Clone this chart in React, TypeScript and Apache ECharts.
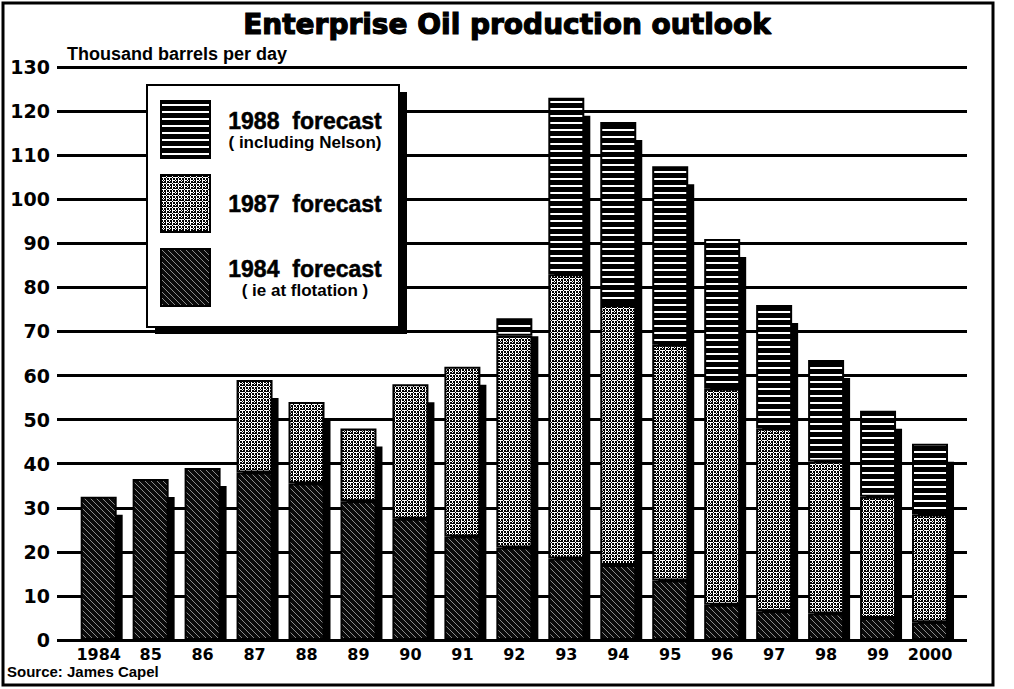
import React, { useEffect, useRef } from "react";
import * as echarts from "echarts";

const categories = ["1984", "85", "86", "87", "88", "89", "90", "91", "92", "93", "94", "95", "96", "97", "98", "99", "2000"];
// segment values (thousand barrels per day), stacked bottom to top
const forecast1984 = [32.5, 36.5, 39, 38, 35.5, 31.5, 27.5, 23.5, 21, 18.5, 17, 13.5, 8, 6.5, 6, 5, 4];
const forecast1987 = [null, null, null, 21, 18.5, 16.5, 30.5, 38.5, 48, 64.5, 59, 53.5, 49, 41.5, 34.5, 27.5, 24.5];
const forecast1988 = [null, null, null, null, null, null, null, null, 4, 40, 41.5, 40.5, 34, 28, 23, 19.5, 16];
const yMin = 0;
const yMax = 130;
const yStep = 10;

function makeCanvas(w: number, h: number, draw: (ctx: CanvasRenderingContext2D) => void) {
  const c = document.createElement("canvas");
  c.width = w;
  c.height = h;
  const ctx = c.getContext("2d")!;
  draw(ctx);
  return c;
}

export default function App() {
  const ref = useRef<HTMLDivElement>(null);

  useEffect(() => {
    if (!ref.current) return;
    const hatch = makeCanvas(6, 6, (ctx) => {
      ctx.fillStyle = "#0a0a0a";
      ctx.fillRect(0, 0, 6, 6);
      ctx.fillStyle = "#8a8a8a";
      for (let i = 0; i < 6; i++) ctx.fillRect(i, i, 1, 1);
    });
    const stipple = makeCanvas(6, 6, (ctx) => {
      ctx.fillStyle = "#ffffff";
      ctx.fillRect(0, 0, 6, 6);
      ctx.fillStyle = "#000000";
      ctx.fillRect(0, 0, 2, 2);
      ctx.fillRect(3, 0, 2, 2);
      ctx.fillRect(0, 3, 2, 2);
      ctx.fillRect(3, 3, 2, 2);
      ctx.fillRect(2, 5, 1, 1);
      ctx.fillRect(5, 2, 1, 1);
      ctx.fillRect(2, 1, 1, 1);
      ctx.fillRect(4, 5, 1, 1);
    });
    const stripes = makeCanvas(4, 7, (ctx) => {
      ctx.fillStyle = "#000000";
      ctx.fillRect(0, 0, 4, 7);
      ctx.fillStyle = "#ffffff";
      ctx.fillRect(0, 3, 4, 2);
    });
    const pat = (c: HTMLCanvasElement) => ({ image: c, repeat: "repeat" });

    const totals = categories.map(
      (_, i) => (forecast1984[i] || 0) + (forecast1987[i] || 0) + (forecast1988[i] || 0)
    );

    const chart = echarts.init(ref.current, null, { renderer: "svg" });
    const barStyle = (c: HTMLCanvasElement) => ({
      color: pat(c),
      borderColor: "#000",
      borderWidth: 2,
    });

    const legendText: Record<string, string> = {
      "1988 forecast": "{a|1988  forecast}\n{b|( including Nelson)}",
      "1987 forecast": "{a|1987  forecast}",
      "1984 forecast": "{a|1984  forecast}\n{b|( ie at flotation )}",
    };

    chart.setOption({
      animation: false,
      backgroundColor: "#fff",
      title: {
        text: "Enterprise Oil production outlook",
        left: "center",
        top: 5,
        textStyle: {
          fontFamily: "DejaVu Sans",
          fontWeight: "bold",
          fontSize: 28,
          color: "#000",
          textBorderColor: "#000",
          textBorderWidth: 1.2,
        },
      },
      legend: {
        data: ["1988 forecast", "1987 forecast", "1984 forecast"],
        orient: "vertical",
        left: 147,
        top: 85,
        itemWidth: 49,
        itemHeight: 57,
        itemGap: 15,
        padding: [15, 4, 20, 13],
        backgroundColor: "#fff",
        borderColor: "#000",
        borderWidth: 2,
        icon: "rect",
        selectedMode: false,
        z: 6,
        formatter: (name: string) => legendText[name] || name,
        textStyle: {
          color: "#000",
          rich: {
            a: { fontFamily: "Liberation Sans", fontWeight: "bold", fontSize: 23, width: 180, align: "center", lineHeight: 25, color: "#000", textBorderColor: "#000", textBorderWidth: 0.5 },
            b: { fontFamily: "Liberation Sans", fontWeight: "bold", fontSize: 17, width: 180, align: "center", lineHeight: 18, color: "#000" },
          },
        },
      },
      grid: [
        { left: 57, right: 47, top: 67, bottom: 49 },
        { left: 72.7, right: 58, top: 67, bottom: 49 },
      ],
      xAxis: [
        { type: "value", gridIndex: 0, show: false, min: 0, max: 1 },
        {
          type: "category",
          gridIndex: 1,
          data: categories,
          axisLine: { show: false },
          axisTick: { show: false },
          axisLabel: { fontFamily: "DejaVu Sans", fontWeight: "bold", fontSize: 16, color: "#000", margin: 6, interval: 0 },
        },
      ],
      yAxis: [
        {
          type: "value",
          gridIndex: 0,
          min: yMin,
          max: yMax,
          interval: yStep,
          name: "Thousand barrels per day",
          nameLocation: "end",
          nameGap: 4,
          nameTextStyle: {
            fontFamily: "Liberation Sans",
            fontWeight: "bold",
            fontSize: 18,
            color: "#000",
            align: "left",
            verticalAlign: "bottom",
            padding: [0, 0, 0, 10],
          },
          axisLine: { show: false },
          axisTick: { show: false },
          axisLabel: { fontFamily: "DejaVu Sans", fontWeight: "bold", fontSize: 19, color: "#000", margin: 7 },
          splitLine: { show: true, lineStyle: { color: "#000", width: 3 } },
        },
        { type: "value", gridIndex: 1, min: yMin, max: yMax, interval: yStep, show: false, splitLine: { show: false } },
      ],
      series: [
        {
          type: "custom",
          name: "shadow",
          xAxisIndex: 1,
          yAxisIndex: 1,
          z: 1,
          silent: true,
          data: totals.map((t, i) => [i, t]),
          renderItem: (params: any, api: any) => {
            const top = api.coord([api.value(0), api.value(1)]);
            const base = api.coord([api.value(0), 0]);
            const y = top[1] + 18;
            return {
              type: "rect",
              shape: { x: top[0] - 18 + 6, y, width: 36, height: Math.max(0, base[1] - y) },
              style: { fill: "#000" },
            };
          },
        },
        {
          type: "bar",
          name: "1984 forecast",
          xAxisIndex: 1,
          yAxisIndex: 1,
          stack: "total",
          barWidth: 36,
          z: 2,
          itemStyle: barStyle(hatch),
          data: forecast1984,
        },
        {
          type: "bar",
          name: "1987 forecast",
          xAxisIndex: 1,
          yAxisIndex: 1,
          stack: "total",
          barWidth: 36,
          z: 2,
          itemStyle: barStyle(stipple),
          data: forecast1987,
        },
        {
          type: "bar",
          name: "1988 forecast",
          xAxisIndex: 1,
          yAxisIndex: 1,
          stack: "total",
          barWidth: 36,
          z: 2,
          itemStyle: barStyle(stripes),
          data: forecast1988,
        },
      ],
      graphic: [
        {
          type: "rect",
          z: 5,
          shape: { x: 155, y: 92, width: 252, height: 242 },
          style: { fill: "#000" },
        },
        {
          type: "text",
          left: 7,
          top: 664,
          z: 10,
          style: { text: "Source: James Capel", font: 'bold 15px "Liberation Sans"', fill: "#000" },
        },
        {
          type: "rect",
          z: 10,
          shape: { x: 3, y: 3, width: 990, height: 682 },
          style: { fill: "none", stroke: "#000", lineWidth: 3 },
        },
      ],
    });
    return () => chart.dispose();
  }, []);

  return (
    <div
      ref={ref}
      style={{ position: "fixed", left: 0, top: 0, width: 1014, height: 689, background: "#fff" }}
    />
  );
}
